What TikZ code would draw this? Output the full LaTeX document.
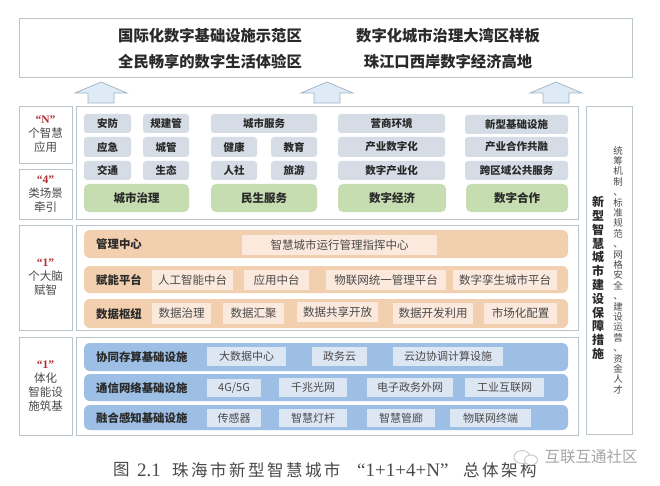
\documentclass[tikz,border=0pt]{standalone}
\usepackage{fontspec}
\setmainfont{Noto Sans CJK SC}
\newfontfamily\serifnum{Liberation Serif}
\newfontfamily\capcjk[LetterSpace=15]{Noto Sans CJK SC}
\definecolor{framec}{HTML}{B9C5CB}
\definecolor{grayc}{HTML}{D6DCE5}
\definecolor{greenc}{HTML}{C5DDB0}
\definecolor{orangec}{HTML}{F2CFAE}
\definecolor{oinner}{HTML}{FAE9DC}
\definecolor{bluec}{HTML}{9DBFE5}
\definecolor{binner}{HTML}{DDE6F3}
\definecolor{arrowc}{HTML}{DEEBF7}
\definecolor{arrowl}{HTML}{9FB2C0}
\definecolor{inkc}{HTML}{2A2A2A}
\definecolor{softc}{HTML}{4A4A4A}
\definecolor{redc}{HTML}{B02A30}
\tikzset{
  frame/.style={draw=framec,line width=0.9pt,fill=white,inner sep=0pt},
  cellbox/.style={fill=grayc,rounded corners=3pt,inner sep=0pt,text=inkc,font=\fontsize{10.5}{12}\selectfont\bfseries},
  greenbox/.style={fill=greenc,rounded corners=5pt,inner sep=0pt,text=inkc,font=\fontsize{11.5}{13}\selectfont\bfseries},
  orangeband/.style={fill=orangec,rounded corners=6pt,inner sep=0pt},
  blueband/.style={fill=bluec,rounded corners=6pt,inner sep=0pt},
  oinnerbox/.style={fill=oinner,inner sep=0pt,text=softc,font=\fontsize{11.5}{13}\selectfont},
  binnerbox/.style={fill=binner,inner sep=0pt,text=softc,font=\fontsize{11}{13}\selectfont},
  bandlabel/.style={anchor=west,inner sep=0pt,text=inkc,font=\fontsize{11.4}{13}\selectfont\bfseries},
  sidelabel/.style={align=center,inner sep=0pt,text=softc,font=\fontsize{11.5}{14}\selectfont},
  headline/.style={inner sep=0pt,text=inkc,font=\fontsize{15.3}{17}\selectfont\bfseries},
  uparrow/.style={fill=arrowc,draw=arrowl,line width=0.7pt,line join=miter},
  capt/.style={inner sep=0pt,text=softc,font=\fontsize{16.5}{18}\capcjk},
  capn/.style={inner sep=0pt,text=softc,font=\fontsize{19}{20}\serifnum}
}
\newcommand{\cellat}[7]{\node[#6,minimum width={(#4-#2)*1pt},minimum height={(#5-#3)*1pt}] (#1) at ({(#2+#4)/2},{(#3+#5)/2}) {#7};}
\newcommand{\upar}[1]{\path[uparrow] (#1,82) -- ++(26,11) -- ++(-13,0) -- ++(0,10) -- ++(-26,0) -- ++(0,-10) -- ++(-13,0) -- cycle;}
\newcommand{\quo}[1]{{\color{redc}\serifnum\bfseries “#1”}}
\begin{document}
\begin{tikzpicture}[x=1pt,y=-1pt]
\useasboundingbox (0,0) rectangle (660,486);
\fill[white] (0,0) rectangle (660,486);
% top
\cellat{top}{19}{18}{632}{77}{frame}{}
\node[headline] (h1) at (210,36) {国际化数字基础设施示范区};
\node[headline] (h2) at (210,62) {全民畅享的数字生活体验区};
\node[headline] (h3) at (448,36) {数字化城市治理大湾区样板};
\node[headline] (h4) at (448,62) {珠江口西岸数字经济高地};
\upar{101}\upar{327}\upar{556}
% frames
\cellat{lN}{19}{106}{72}{163}{frame,sidelabel}{\quo{N}\\个智慧\\应用}
\cellat{l4}{19}{169}{72}{219}{frame,sidelabel}{\quo{4}\\类场景\\牵引}
\cellat{l1}{19}{225}{72}{330}{frame,sidelabel}{\quo{1}\\个大脑\\赋智}
\cellat{l2}{19}{337}{72}{435}{frame,sidelabel}{\quo{1}\\体化\\智能设\\施筑基}
\cellat{m1}{76}{106}{578}{219}{frame}{}
\cellat{m2}{76}{225}{578}{330}{frame}{}
\cellat{m3}{76}{337}{578}{435}{frame}{}
\cellat{rb}{586}{106}{632}{434}{frame}{}
% group 1
\cellat{a1}{84}{114}{131}{133}{cellbox}{安防}
\cellat{a2}{143}{114}{189}{133}{cellbox}{规建管}
\cellat{a3}{84}{137}{131}{157}{cellbox}{应急}
\cellat{a4}{143}{137}{189}{157}{cellbox}{城管}
\cellat{a5}{84}{161}{131}{180}{cellbox}{交通}
\cellat{a6}{143}{161}{189}{180}{cellbox}{生态}
\cellat{ag}{84}{184}{189}{212}{greenbox}{城市治理}
% group 2
\cellat{b1}{211}{114}{317}{133}{cellbox}{城市服务}
\cellat{b3}{211}{137}{257}{157}{cellbox}{健康}
\cellat{b4}{271}{137}{317}{157}{cellbox}{教育}
\cellat{b5}{211}{161}{257}{180}{cellbox}{人社}
\cellat{b6}{271}{161}{317}{180}{cellbox}{旅游}
\cellat{bg}{211}{184}{317}{212}{greenbox}{民生服务}
% group 3
\cellat{c1}{338}{114}{445}{133}{cellbox}{营商环境}
\cellat{c2}{338}{137}{445}{157}{cellbox}{产业数字化}
\cellat{c3}{338}{161}{445}{180}{cellbox}{数字产业化}
\cellat{cg}{338}{184}{446}{212}{greenbox}{数字经济}
% group 4
\cellat{d1}{465}{115}{568}{134}{cellbox}{新型基础设施}
\cellat{d2}{465}{137}{568}{157}{cellbox}{产业合作共融}
\cellat{d3}{465}{161}{568}{180}{cellbox}{跨区域公共服务}
\cellat{dg}{466}{184}{568}{212}{greenbox}{数字合作}
% orange bands
\cellat{o1}{84}{230}{568}{258}{orangeband}{}
\cellat{o2}{84}{266}{568}{293}{orangeband}{}
\cellat{o3}{84}{299}{568}{328}{orangeband}{}
\node[bandlabel] (ol1) at (96,244) {管理中心};
\node[bandlabel] (ol2) at (96,280) {赋能平台};
\node[bandlabel] (ol3) at (96,314) {数据枢纽};
\cellat{o11}{242}{235}{437}{255}{oinnerbox}{智慧城市运行管理指挥中心}
\cellat{o21}{152}{270}{233}{290}{oinnerbox}{人工智能中台}
\cellat{o22}{244}{270}{309}{290}{oinnerbox}{应用中台}
\cellat{o23}{326}{270}{446}{290}{oinnerbox}{物联网统一管理平台}
\cellat{o24}{453}{270}{557}{290}{oinnerbox}{数字孪生城市平台}
\cellat{o31}{152}{303}{211}{324}{oinnerbox}{数据治理}
\cellat{o32}{223}{303}{284}{324}{oinnerbox}{数据汇聚}
\cellat{o33}{297}{302}{378}{322}{oinnerbox}{数据共享开放}
\cellat{o34}{393}{303}{473}{324}{oinnerbox}{数据开发利用}
\cellat{o35}{484}{303}{557}{324}{oinnerbox}{市场化配置}
% blue bands
\cellat{u1}{84}{343}{568}{371}{blueband}{}
\cellat{u2}{84}{374}{568}{401}{blueband}{}
\cellat{u3}{84}{405}{568}{430}{blueband}{}
\node[bandlabel] (ul1) at (96,357) {协同存算基础设施};
\node[bandlabel] (ul2) at (96,388) {通信网络基础设施};
\node[bandlabel] (ul3) at (96,418) {融合感知基础设施};
\cellat{u11}{207}{347}{286}{366}{binnerbox}{大数据中心}
\cellat{u12}{312}{347}{367}{366}{binnerbox}{政务云}
\cellat{u13}{393}{347}{503}{366}{binnerbox}{云边协调计算设施}
\cellat{u21}{207}{379}{261}{397}{binnerbox}{4G/5G}
\cellat{u22}{279}{378}{347}{397}{binnerbox}{千兆光网}
\cellat{u23}{367}{378}{453}{397}{binnerbox}{电子政务外网}
\cellat{u24}{465}{378}{544}{397}{binnerbox}{工业互联网}
\cellat{u31}{207}{409}{261}{427}{binnerbox}{传感器}
\cellat{u32}{279}{409}{347}{427}{binnerbox}{智慧灯杆}
\cellat{u33}{367}{409}{435}{427}{binnerbox}{智慧管廊}
\cellat{u34}{450}{409}{531}{427}{binnerbox}{物联网终端}
% right column
\node[align=center,inner sep=0pt,text=inkc,font=\fontsize{12}{13.8}\selectfont\bfseries] (rt) at (598,278) {新\\型\\智\\慧\\城\\市\\建\\设\\保\\障\\措\\施};
\node[align=center,inner sep=0pt,text=softc,font=\fontsize{9.5}{10.4}\selectfont] (rs) at (618,270) {统\\筹\\机\\制\\、\\标\\准\\规\\范\\、\\网\\格\\安\\全\\、\\建\\设\\运\\营\\、\\资\\金\\人\\才};
% caption
\node[capt,anchor=west] (c1) at (113,470) {图};
\node[capn,anchor=west] (c2) at (137,470) {2.1};
\node[capt,anchor=west] (c3) at (172,470) {珠海市新型智慧城市};
\node[capn,anchor=west] (c4) at (357,470) {“1+1+4+N”};
\node[capt,anchor=west] (c5) at (463,470) {总体架构};
% watermark
\draw[draw=black!22,line width=0.9pt,fill=white] (522,457) ellipse (8 and 6.5);
\draw[draw=black!22,line width=0.9pt,fill=white] (531,460) ellipse (6.5 and 5);
\node[inner sep=0pt,text=black!35,font=\fontsize{15.5}{17}\selectfont] (wm) at (591,457) {互联互通社区};
\end{tikzpicture}
\end{document}
